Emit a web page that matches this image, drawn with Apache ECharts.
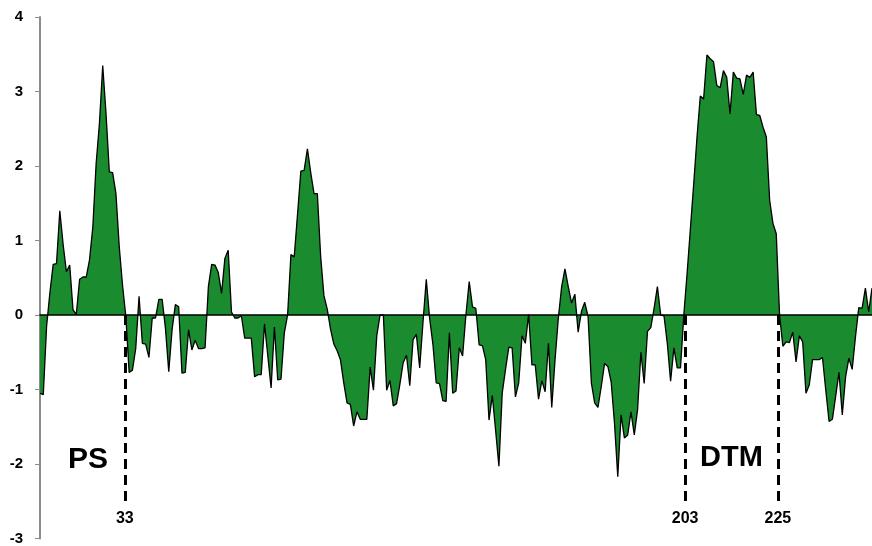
<!DOCTYPE html>
<html>
<head>
<meta charset="utf-8">
<script src="https://cdn.jsdelivr.net/npm/echarts@6/dist/echarts.min.js"></script>
<style>
  html, body { margin: 0; padding: 0; background: #ffffff; }
  #chart { width: 872px; height: 546px; }
</style>
</head>
<body>
<div id="chart"></div>
<script>
// Hydropathy profile, one value per sliding-window position
const hydropathy = [
  -1.05, -1.07, -0.15, 0.30, 0.68, 0.69, 1.40, 0.95, 0.58, 0.67,
  0.07, 0.01, 0.48, 0.51, 0.51, 0.74, 1.18, 2.03, 2.57, 3.35,
  2.70, 1.92, 1.91, 1.63, 0.92, 0.40, -0.02, -0.77, -0.74, -0.45,
  0.25, -0.38, -0.39, -0.57, -0.04, -0.04, 0.21, 0.21, -0.18, -0.76,
  -0.20, 0.14, 0.11, -0.78, -0.77, -0.20, -0.47, -0.34, -0.45, -0.45,
  -0.44, 0.38, 0.68, 0.67, 0.57, 0.29, 0.76, 0.87, 0.04, -0.04,
  -0.04, -0.01, -0.31, -0.31, -0.31, -0.83, -0.80, -0.80, -0.12, -0.55,
  -0.98, -0.16, -0.87, -0.86, -0.24, 0.00, 0.81, 0.78, 1.35, 1.93,
  1.94, 2.23, 1.91, 1.63, 1.63, 0.79, 0.26, 0.08, -0.19, -0.39,
  -0.48, -0.60, -0.91, -1.18, -1.20, -1.49, -1.30, -1.40, -1.40, -1.40,
  -0.70, -1.01, -0.28, 0.00, 0.00, -1.01, -0.88, -1.22, -1.19, -0.93,
  -0.64, -0.54, -0.95, -0.33, -0.26, -0.71, -0.10, 0.48, -0.04, -0.39,
  -0.91, -0.92, -1.15, -1.16, -0.24, -1.05, -1.02, -0.44, -0.55, 0.00,
  0.45, 0.11, 0.09, -0.40, -0.41, -0.60, -1.41, -1.08, -1.55, -2.03,
  -1.05, -0.73, -0.43, -0.44, -1.10, -0.91, -0.28, -0.38, 0.01, -0.67,
  -0.67, -1.13, -0.88, -1.03, -0.38, -1.24, -0.60, -0.04, 0.38, 0.62,
  0.38, 0.16, 0.28, -0.23, 0.05, 0.17, -0.02, -0.91, -1.18, -1.24,
  -0.96, -0.65, -0.69, -0.90, -1.45, -2.17, -1.34, -1.65, -1.61, -1.30,
  -1.61, -1.27, -0.50, -0.92, -0.22, -0.17, 0.09, 0.38, 0.00, -0.01,
  -0.38, -0.89, -0.44, -0.71, -0.71, 0.00, 0.56, 1.16, 1.76, 2.39,
  2.94, 2.90, 3.49, 3.44, 3.40, 3.08, 3.05, 3.28, 3.19, 2.70,
  3.26, 3.18, 3.17, 2.96, 3.22, 3.19, 3.26, 2.69, 2.68, 2.52,
  2.39, 1.54, 1.23, 1.09, 0.00, -0.42, -0.36, -0.37, -0.23, -0.63,
  -0.28, -0.36, -1.05, -0.94, -0.60, -0.60, -0.60, -0.57, -1.01, -1.43,
  -1.40, -1.09, -0.77, -1.34, -0.83, -0.58, -0.73, -0.29, 0.10, 0.09,
  0.36, 0.04, 0.36
];

// Y axis range and step
const yMin = -3;
const yMax = 4;
const yStep = 1;

// Domain boundaries: position along the profile and residue number shown
const boundaryPos = [25.7, 195.4, 223.5];
const boundaryLabels = ['33', '203', '225'];
const boundaryDepth = -2.55;

// Region names
const regionNames = ['PS', 'DTM'];

const points = hydropathy.map((v, i) => [i, v]);

const chart = echarts.init(document.getElementById('chart'), null, { renderer: 'canvas' });

const boundaryLines = boundaryPos.map((p, k) => [
  { coord: [p, 0] },
  { coord: [p, boundaryDepth], label: { formatter: boundaryLabels[k] } }
]);

chart.setOption({
  animation: false,
  backgroundColor: '#ffffff',
  grid: { left: 40, right: 0, top: 17, bottom: 3, containLabel: false },
  xAxis: {
    type: 'value',
    min: 0,
    max: hydropathy.length - 1,
    z: 5,
    axisLine: { show: true, onZero: true, lineStyle: { color: '#000000', width: 1.5 } },
    axisTick: { show: false },
    axisLabel: { show: false },
    splitLine: { show: false }
  },
  yAxis: {
    type: 'value',
    min: yMin,
    max: yMax,
    interval: yStep,
    axisLine: { show: true, lineStyle: { color: '#8c8c8c', width: 2 } },
    axisTick: { show: true, inside: false, length: 5, lineStyle: { color: '#8c8c8c', width: 1 } },
    axisLabel: {
      show: true,
      margin: 17,
      color: '#000000',
      fontSize: 15,
      fontWeight: 'bold',
      fontFamily: 'Liberation Sans, Arial, sans-serif'
    },
    splitLine: { show: false }
  },
  series: [{
    type: 'line',
    data: points,
    showSymbol: false,
    symbol: 'none',
    smooth: false,
    lineStyle: { color: '#000000', width: 1.3 },
    areaStyle: { color: '#1b8b2f', opacity: 1, origin: 0 },
    markLine: {
      silent: true,
      symbol: ['none', 'none'],
      lineStyle: { color: '#000000', type: [10, 6], width: 3 },
      label: {
        show: true,
        position: 'end',
        distance: 6,
        color: '#000000',
        fontSize: 16,
        fontWeight: 'bold',
        fontFamily: 'Liberation Sans, Arial, sans-serif'
      },
      data: boundaryLines
    }
  }],
  graphic: [
    {
      type: 'text',
      left: 68,
      top: 445,
      style: {
        text: regionNames[0],
        fill: '#000000',
        font: 'bold 30px "Liberation Sans", Arial, sans-serif'
      }
    },
    {
      type: 'text',
      left: 700,
      top: 443,
      style: {
        text: regionNames[1],
        fill: '#000000',
        font: 'bold 29px "Liberation Sans", Arial, sans-serif'
      }
    }
  ]
});
</script>
</body>
</html>
